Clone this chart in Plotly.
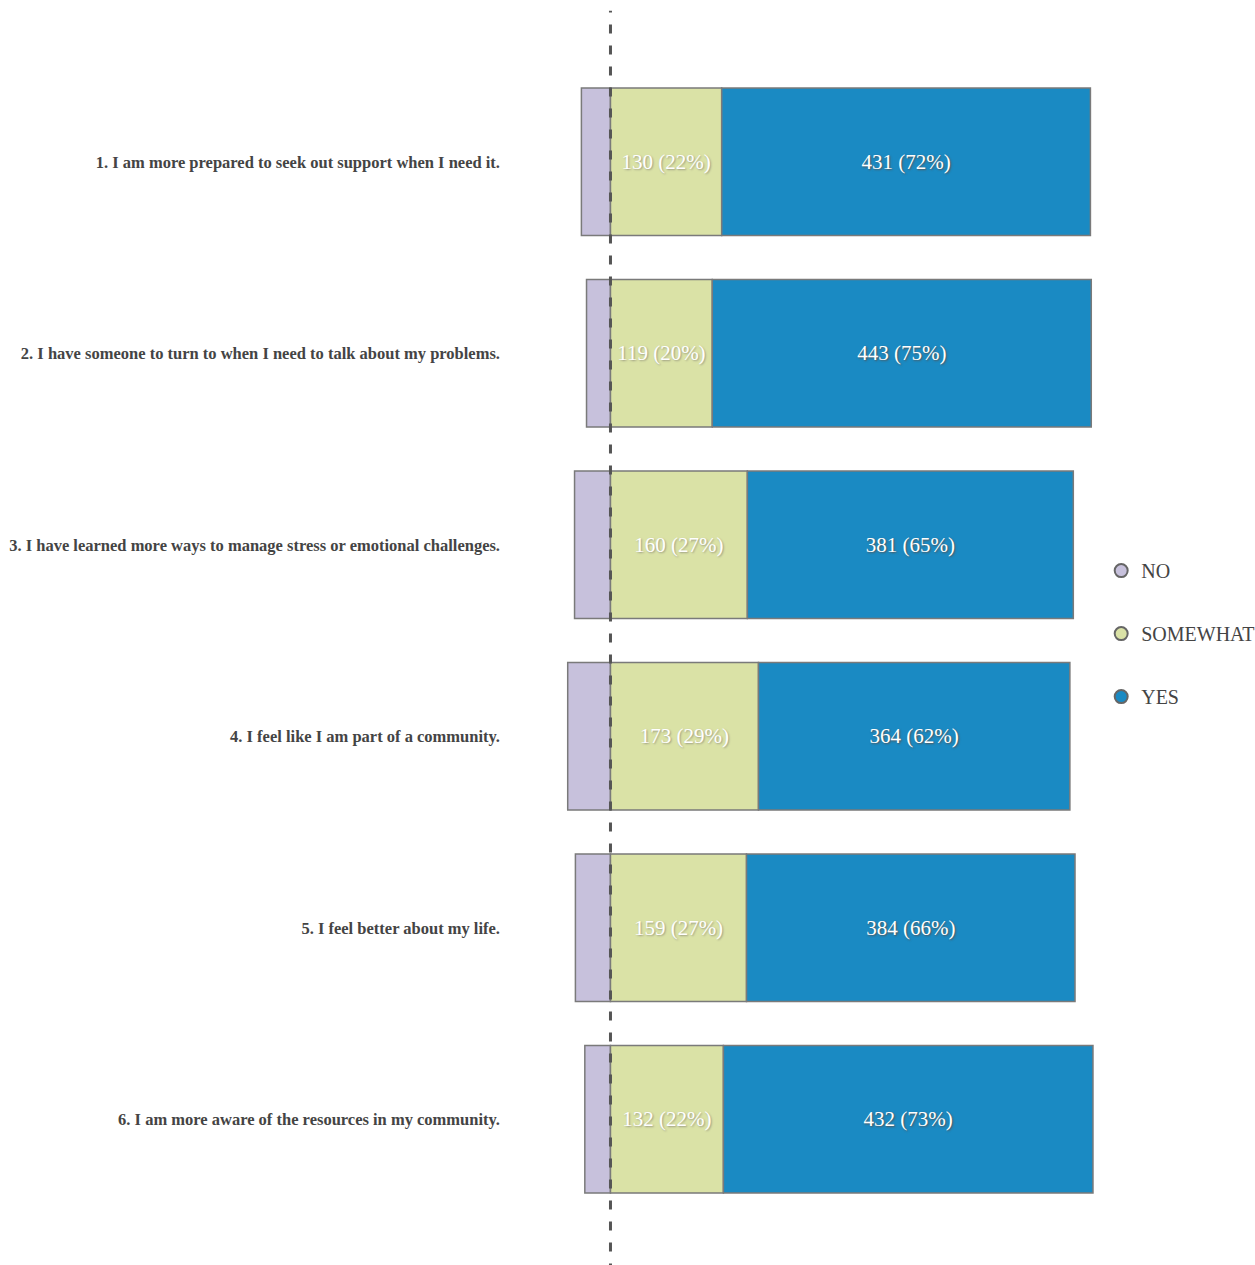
import plotly.graph_objects as go

questions = [
    "1. I am more prepared to seek out support when I need it.",
    "2. I have someone to turn to when I need to talk about my problems.",
    "3. I have learned more ways to manage stress or emotional challenges.",
    "4. I feel like I am part of a community.",
    "5. I feel better about my life.",
    "6. I am more aware of the resources in my community.",
]
no_counts = [34, 28, 42, 50, 41, 30]
somewhat_counts = [130, 119, 160, 173, 159, 132]
somewhat_pct = [22, 20, 27, 29, 27, 22]
yes_counts = [431, 443, 381, 364, 384, 432]
yes_pct = [72, 75, 65, 62, 66, 73]

C_NO = "#c7c1dc"
C_SW = "#dae2a6"
C_YES = "#1a8ac3"
EDGE = "#7a7a7a"
FONT = "Liberation Serif"

fig = go.Figure()
fig.add_trace(go.Bar(
    y=questions, x=[-v for v in no_counts], orientation="h", name="NO",
    marker=dict(color=C_NO, line=dict(color=EDGE, width=1.5)),
    showlegend=False, hoverinfo="skip",
))
fig.add_trace(go.Bar(
    y=questions, x=somewhat_counts, orientation="h", name="SOMEWHAT",
    marker=dict(color=C_SW, line=dict(color=EDGE, width=1.5)),
    text=[f"{c} ({p}%)" for c, p in zip(somewhat_counts, somewhat_pct)],
    textposition="inside", insidetextanchor="middle",
    textfont=dict(color="white", size=21, family=FONT, shadow="1px 1px 2px #9a9a80"),
    showlegend=False, hoverinfo="skip",
))
fig.add_trace(go.Bar(
    y=questions, x=yes_counts, orientation="h", name="YES",
    marker=dict(color=C_YES, line=dict(color=EDGE, width=1.5)),
    text=[f"{c} ({p}%)" for c, p in zip(yes_counts, yes_pct)],
    textposition="inside", insidetextanchor="middle",
    textfont=dict(color="white", size=21, family=FONT, shadow="1px 1px 2px #555"),
    showlegend=False, hoverinfo="skip",
))

for name, col in [("NO", C_NO), ("SOMEWHAT", C_SW), ("YES", C_YES)]:
    fig.add_trace(go.Scatter(
        x=[None], y=[None], mode="markers", name=name, legendgroup=name,
        marker=dict(symbol="circle", size=13, color=col, line=dict(color="#666", width=2)),
    ))

fig.add_shape(type="line", xref="x", yref="paper", x0=0, x1=0, y0=-0.05, y1=1.048,
              line=dict(color="#555555", width=3, dash="9px,12px"))

fig.update_layout(
    width=1255, height=1265,
    margin=dict(l=505, r=155, t=66, b=50, autoexpand=False),
    paper_bgcolor="white", plot_bgcolor="white",
    barmode="relative", bargap=0.23,
    font=dict(family=FONT, color="#444444"),
    xaxis=dict(range=[-123.3, 572.2], showgrid=False, zeroline=False, showticklabels=False,
               showline=False, fixedrange=True),
    yaxis=dict(autorange="reversed", showgrid=False, zeroline=False, showline=False,
               ticks="", ticklabelstandoff=4,
               tickfont=dict(size=16.5, family=FONT, color="#444444", weight="bold"),
               automargin=False),
    legend=dict(x=1.002, y=0.506, xanchor="left", yanchor="middle",
                font=dict(size=20, family=FONT, color="#444444"),
                traceorder="grouped", tracegroupgap=34, itemwidth=30,
                bgcolor="rgba(0,0,0,0)"),
)

fig.write_html("out.html")
